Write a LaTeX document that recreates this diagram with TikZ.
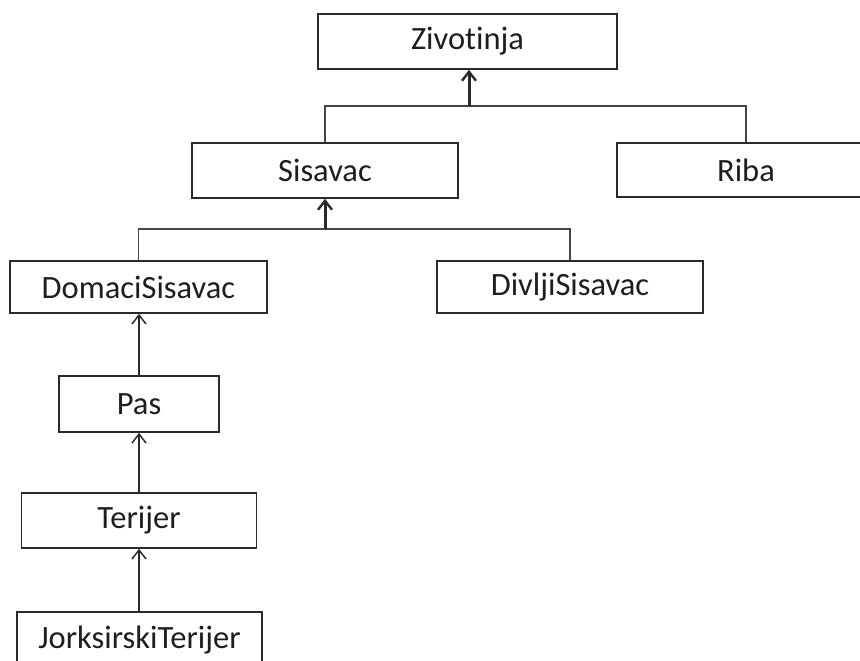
\documentclass[tikz,border=0pt]{standalone}
\usepackage{fontspec}
\setmainfont[RawFeature=-liga, Ligatures=NoCommon]{Carlito}
\usetikzlibrary{arrows.meta}
\definecolor{ink}{HTML}{1E1E1E}
\definecolor{edge}{HTML}{2A2A2A}
\definecolor{bar}{HTML}{444444}
\tikzset{
  cls/.style={draw=edge, line width=1.6pt, fill=white, inner sep=0pt, text=ink,
    font=\fontsize{32.5}{38}\selectfont, minimum height=55pt},
  barline/.style={draw=bar, line width=1.5pt},
  thinarrow/.style={draw=edge, line width=1.5pt, -{Straight Barb[length=9pt,width=14pt,line width=1.5pt]}},
  thickarrow/.style={draw=edge, line width=3pt, -{Straight Barb[length=9pt,width=14pt,line width=2.4pt]}},
}
\begin{document}
\begin{tikzpicture}[x=1pt, y=-1pt]
\useasboundingbox (0,0) rectangle (860,661);
\clip (0,0) rectangle (860,661);
\node[cls, minimum width=299pt] (Zivotinja) at (467.5,41.5) {Zivot\kern0pt inja};
\node[cls, minimum width=266pt] (Sisavac) at (325,170.5) {Sisavac};
\node[cls, minimum width=258pt, minimum height=54pt] (Riba) at (746,170) {Riba};
\node[cls, minimum width=257pt, minimum height=52pt] (DomaciSisavac) at (138.5,287) {DomaciSisavac};
\node[cls, minimum width=266pt, minimum height=52pt] (DivljiSisavac) at (570,287) {DivljiSisavac};
\node[cls, minimum width=160pt, minimum height=56pt] (Pas) at (139,404) {Pas};
\node[cls, minimum width=235pt] (Terijer) at (139,520.5) {Terijer};
\node[cls, minimum width=245pt] (Jorksirski) at (139.5,639.5) {JorksirskiTerijer};
% level 1
\coordinate (b1) at (469,106);
\draw[barline] (Sisavac.north) |- (b1) -| (Riba.north);
\draw[thickarrow] (b1) -- (b1 |- Zivotinja.south);
% level 2
\coordinate (b2) at (325,229);
\draw[barline] (DomaciSisavac.north) |- (b2) -| (DivljiSisavac.north);
\draw[thickarrow] (b2) -- (Sisavac.south);
% chain
\draw[thinarrow] (Pas.north) -- (Pas.north |- DomaciSisavac.south);
\draw[thinarrow] (Terijer.north) -- (Terijer.north |- Pas.south);
\draw[thinarrow] (Jorksirski.north -| Terijer.north) -- (Terijer.south);
\end{tikzpicture}
\end{document}
